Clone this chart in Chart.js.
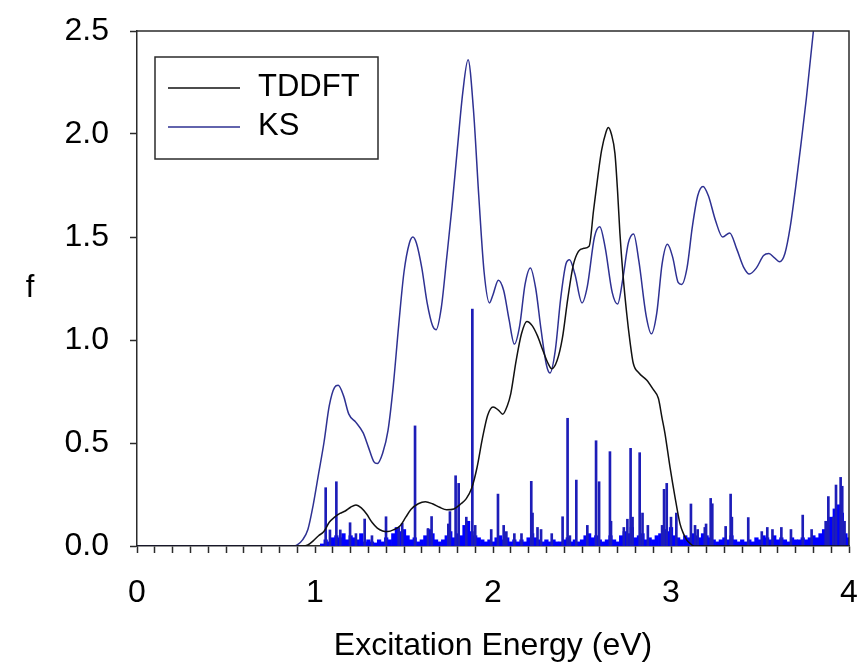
<!DOCTYPE html>
<html>
<head>
<meta charset="utf-8">
<script src="https://cdn.jsdelivr.net/npm/chart.js@4.4.1/dist/chart.umd.min.js"></script>
<style>
  html, body { margin: 0; padding: 0; background: #fff; }
  #wrap { width: 863px; height: 666px; }
</style>
</head>
<body>
<div id="wrap"><canvas id="chart" width="863" height="666"></canvas></div>
<script>
// TDDFT spectrum (black curve)
const tddftE = [0, 0.93, 0.96, 0.99, 1.02, 1.05, 1.08, 1.11, 1.14, 1.17, 1.20, 1.23, 1.26, 1.29, 1.32, 1.35,
  1.38, 1.41, 1.44, 1.48, 1.51, 1.54, 1.58, 1.62, 1.66, 1.70, 1.74, 1.78, 1.82, 1.85, 1.88, 1.91, 1.94,
  1.97, 2.00, 2.03, 2.055, 2.08, 2.10, 2.13, 2.16, 2.19, 2.22, 2.25, 2.28, 2.31, 2.33, 2.36, 2.39, 2.42,
  2.45, 2.48, 2.51, 2.54, 2.565, 2.59, 2.61, 2.635, 2.648, 2.665, 2.685, 2.70, 2.713, 2.73, 2.751, 2.77,
  2.788, 2.82, 2.863, 2.90, 2.929, 2.95, 2.966, 2.994, 3.022, 3.05, 3.07, 3.088, 3.11, 3.13, 4.0];
const tddftF = [0, 0, 0.005, 0.025, 0.05, 0.07, 0.115, 0.14, 0.158, 0.17, 0.188, 0.199, 0.185, 0.155, 0.115, 0.087,
  0.073, 0.07, 0.078, 0.10, 0.14, 0.178, 0.205, 0.215, 0.205, 0.188, 0.176, 0.18, 0.205, 0.23, 0.28, 0.38, 0.52,
  0.635, 0.675, 0.66, 0.64, 0.68, 0.74, 0.9, 1.03, 1.09, 1.07, 1.02, 0.95, 0.885, 0.86, 0.9, 1.01, 1.2,
  1.36, 1.43, 1.445, 1.455, 1.63, 1.80, 1.92, 2.01, 2.032, 2.0, 1.906, 1.72, 1.518, 1.32, 1.13, 0.99,
  0.887, 0.84, 0.806, 0.76, 0.717, 0.62, 0.547, 0.385, 0.24, 0.11, 0.06, 0.03, 0.01, 0, 0];

// KS spectrum (blue curve)
const ksE = [0, 0.88, 0.90, 0.93, 0.96, 0.99, 1.02, 1.05, 1.08, 1.11, 1.13, 1.16, 1.19, 1.23, 1.27, 1.30,
  1.33, 1.35, 1.38, 1.41, 1.44, 1.47, 1.50, 1.53, 1.55, 1.57, 1.60, 1.63, 1.66, 1.68, 1.71, 1.74, 1.77,
  1.80, 1.83, 1.86, 1.89, 1.92, 1.95, 1.98, 2.00, 2.03, 2.06, 2.09, 2.12, 2.15, 2.18, 2.21, 2.24, 2.27,
  2.30, 2.32, 2.35, 2.38, 2.41, 2.43, 2.46, 2.50, 2.53, 2.57, 2.60, 2.63, 2.67, 2.70, 2.73, 2.76, 2.79,
  2.82, 2.86, 2.89, 2.92, 2.95, 2.98, 3.01, 3.04, 3.06, 3.09, 3.12, 3.15, 3.18, 3.21, 3.25, 3.29, 3.33,
  3.37, 3.41, 3.44, 3.48, 3.52, 3.55, 3.58, 3.61, 3.64, 3.67, 3.70, 3.73, 3.76, 3.80, 3.84];
const ksF = [0, 0, 0.005, 0.03, 0.08, 0.2, 0.35, 0.5, 0.68, 0.77, 0.78, 0.73, 0.64, 0.6, 0.55, 0.48,
  0.41, 0.40, 0.45, 0.56, 0.78, 1.07, 1.33, 1.47, 1.50, 1.47, 1.35, 1.18, 1.07, 1.05, 1.16, 1.40, 1.65,
  1.93, 2.2, 2.36, 2.12, 1.7, 1.33, 1.18, 1.22, 1.29, 1.24, 1.1, 0.98, 1.07, 1.27, 1.35, 1.25, 1.05,
  0.88, 0.84, 0.95, 1.2, 1.37, 1.39, 1.32, 1.18, 1.26, 1.50, 1.55, 1.45, 1.23, 1.175, 1.3, 1.47, 1.515,
  1.38, 1.12, 1.03, 1.13, 1.37, 1.465, 1.40, 1.28, 1.27, 1.35, 1.55, 1.70, 1.745, 1.70, 1.58, 1.50, 1.52,
  1.44, 1.35, 1.32, 1.35, 1.41, 1.42, 1.40, 1.38, 1.42, 1.55, 1.74, 1.95, 2.17, 2.5, 2.85];

// individual transitions (sticks)
const stickE = [1.060, 1.084, 1.120, 1.142, 1.197, 1.230, 1.279, 1.320, 1.399, 1.470, 1.490, 1.562, 1.635,
  1.655, 1.749, 1.758, 1.790, 1.807, 1.850, 1.884, 1.900, 1.990, 2.028, 2.060, 2.075, 2.120, 2.160, 2.215,
  2.222, 2.250, 2.270, 2.330, 2.391, 2.419, 2.432, 2.468, 2.530, 2.579, 2.596, 2.657, 2.663, 2.735, 2.755,
  2.773, 2.784, 2.824, 2.840, 2.870, 2.950, 2.961, 2.976, 3.000, 3.030, 3.112, 3.135, 3.150, 3.190, 3.197,
  3.223, 3.232, 3.307, 3.335, 3.342, 3.434, 3.510, 3.541, 3.570, 3.620, 3.674, 3.740, 3.790, 3.869, 3.884,
  3.912, 3.927, 3.953, 3.962, 3.975];
const stickF = [0.283, 0.078, 0.312, 0.078, 0.113, 0.06, 0.131, 0.05, 0.142, 0.09, 0.11, 0.583, 0.085,
  0.143, 0.107, 0.167, 0.341, 0.304, 0.14, 1.15, 0.10, 0.08, 0.252, 0.10, 0.07, 0.06, 0.06, 0.314,
  0.16, 0.09, 0.08, 0.06, 0.142, 0.62, 0.05, 0.32, 0.10, 0.511, 0.312, 0.458, 0.12, 0.09, 0.13,
  0.474, 0.14, 0.453, 0.16, 0.10, 0.10, 0.275, 0.304, 0.14, 0.16, 0.204, 0.10, 0.08, 0.09, 0.107,
  0.231, 0.205, 0.095, 0.252, 0.14, 0.138, 0.07, 0.09, 0.08, 0.09, 0.08, 0.15, 0.08, 0.12, 0.24,
  0.14, 0.296, 0.333, 0.29, 0.12];

// dense weak transitions near the baseline, one value every 0.02 eV from 1.04 eV
const grassStart = 1.04;
const grassStep = 0.02;
const grassF = [0.01, 0.03, 0.02, 0.04, 0.05, 0.04, 0.06, 0.03, 0.05, 0.04, 0.03, 0.06, 0.02, 0.03, 0.02,
  0.015, 0.03, 0.02, 0.04, 0.03, 0.06, 0.09, 0.07, 0.08, 0.05, 0.03, 0.04, 0.02, 0.03, 0.05, 0.08, 0.06,
  0.03, 0.02, 0.03, 0.05, 0.07, 0.04, 0.06, 0.05, 0.1, 0.12, 0.07, 0.05, 0.04, 0.03, 0.02, 0.03, 0.02,
  0.04, 0.05, 0.03, 0.04, 0.02, 0.03, 0.02, 0.03, 0.02, 0.04, 0.06, 0.04, 0.03, 0.02, 0.03, 0.02, 0.03,
  0.02, 0.02, 0.03, 0.04, 0.02, 0.03, 0.02, 0.03, 0.05, 0.06, 0.04, 0.05, 0.03, 0.02, 0.03, 0.05, 0.03,
  0.02, 0.05, 0.07, 0.06, 0.09, 0.04, 0.05, 0.06, 0.03, 0.04, 0.03, 0.05, 0.06, 0.08, 0.07, 0.09, 0.05,
  0.04, 0.03, 0.05, 0.04, 0.06, 0.05, 0.04, 0.06, 0.05, 0.04, 0.03, 0.02, 0.03, 0.04, 0.03, 0.05, 0.03,
  0.02, 0.03, 0.02, 0.03, 0.02, 0.04, 0.03, 0.05, 0.04, 0.03, 0.05, 0.03, 0.04, 0.03, 0.02, 0.04, 0.03,
  0.03, 0.04, 0.03, 0.04, 0.05, 0.04, 0.06, 0.08, 0.1, 0.14, 0.18, 0.2, 0.16, 0.06, 0.04];

const xTickMajor = [0, 1, 2, 3, 4];
const yTicks = ['0.0', '0.5', '1.0', '1.5', '2.0', '2.5'];

const FONT = '"Liberation Sans", Arial, Helvetica, sans-serif';
const AXIS = '#2b2b2b';
Chart.defaults.font.family = FONT;
Chart.defaults.color = '#000';

function pairs(xs, ys) {
  return xs.map((x, i) => ({ x: x, y: ys[i] }));
}
const grassPts = grassF.map((f, i) => ({ x: +(grassStart + i * grassStep).toFixed(2), y: f }));

// top and right sides of the plot frame, plus the upright "f" axis title
const framePlugin = {
  id: 'frame',
  afterDraw(chart) {
    const { ctx, chartArea: a } = chart;
    ctx.save();
    ctx.strokeStyle = AXIS;
    ctx.lineWidth = 1.5;
    ctx.beginPath();
    ctx.moveTo(a.left, a.top);
    ctx.lineTo(a.right, a.top);
    ctx.lineTo(a.right, a.bottom);
    ctx.stroke();
    ctx.fillStyle = '#000';
    ctx.font = '31px ' + FONT;
    ctx.textAlign = 'center';
    ctx.textBaseline = 'middle';
    ctx.fillText('f', 30, (a.top + a.bottom) / 2);
    ctx.restore();
  }
};

// boxed legend inside the plot, upper left
const boxLegend = {
  id: 'boxLegend',
  afterDraw(chart) {
    const { ctx, chartArea: a } = chart;
    const x0 = a.left + 18, y0 = a.top + 26;
    ctx.save();
    ctx.fillStyle = '#fff';
    ctx.fillRect(x0, y0, 223, 102);
    ctx.strokeStyle = AXIS;
    ctx.lineWidth = 1.5;
    ctx.strokeRect(x0, y0, 223, 102);
    const items = chart.data.datasets.filter(d => d.type === 'line');
    items.forEach((d, i) => {
      const y = y0 + 31 + i * 39;
      ctx.strokeStyle = d.borderColor;
      ctx.lineWidth = 1.5;
      ctx.beginPath();
      ctx.moveTo(x0 + 13, y);
      ctx.lineTo(x0 + 85, y);
      ctx.stroke();
      ctx.fillStyle = '#000';
      ctx.font = '31px ' + FONT;
      ctx.textBaseline = 'middle';
      ctx.textAlign = 'left';
      ctx.fillText(d.label, x0 + 103, y - 1);
    });
    ctx.restore();
  }
};

new Chart(document.getElementById('chart'), {
  data: {
    datasets: [
      { type: 'line', label: 'TDDFT', data: pairs(tddftE, tddftF), borderColor: '#111111',
        borderWidth: 1.5, pointRadius: 0, cubicInterpolationMode: 'monotone', order: 0 },
      { type: 'line', label: 'KS', data: pairs(ksE, ksF), borderColor: '#2e3192',
        borderWidth: 1.5, pointRadius: 0, cubicInterpolationMode: 'monotone', order: 0 },
      { type: 'bar', label: 'sticks', data: pairs(stickE, stickF), backgroundColor: '#1d1db8',
        barThickness: 2, grouped: false, borderWidth: 0, order: 1 },
      { type: 'bar', label: 'weak', data: grassPts, backgroundColor: '#0000ff',
        barThickness: 3.6, grouped: false, borderWidth: 0, order: 2 }
    ]
  },
  options: {
    responsive: false,
    animation: false,
    layout: { padding: { top: 31, right: 14, left: 0, bottom: 0 } },
    plugins: { legend: { display: false }, tooltip: { enabled: false } },
    scales: {
      x: {
        type: 'linear', min: 0, max: 4, offset: false,
        ticks: {
          stepSize: 0.1, autoSkip: false, maxRotation: 0, padding: 21, color: '#000',
          font: { size: 32 },
          callback: v => {
            const m = xTickMajor.find(t => Math.abs(t - v) < 1e-6);
            return m === undefined ? '' : String(m);
          }
        },
        grid: { drawOnChartArea: false, drawTicks: true, tickLength: 7, offset: false,
                tickColor: AXIS, tickWidth: 1.5 },
        border: { display: true, color: AXIS, width: 1.5 },
        title: { display: true, text: 'Excitation Energy (eV)', color: '#000',
                 font: { size: 32 }, padding: { top: 0, bottom: 1 } },
        afterFit: s => { s.height = 120; s.paddingLeft = 0; s.paddingRight = 0; }
      },
      y: {
        type: 'linear', min: 0, max: 2.5,
        ticks: {
          stepSize: 0.5, padding: 21, color: '#000', font: { size: 32 },
          callback: (v, i) => yTicks[i]
        },
        grid: { drawOnChartArea: false, drawTicks: true, tickLength: 7,
                tickColor: AXIS, tickWidth: 1.5 },
        border: { display: true, color: AXIS, width: 1.5 },
        title: { display: false },
        afterFit: s => { s.width = 137; s.paddingTop = 0; s.paddingBottom = 0; }
      }
    }
  },
  plugins: [framePlugin, boxLegend]
});
</script>
</body>
</html>
